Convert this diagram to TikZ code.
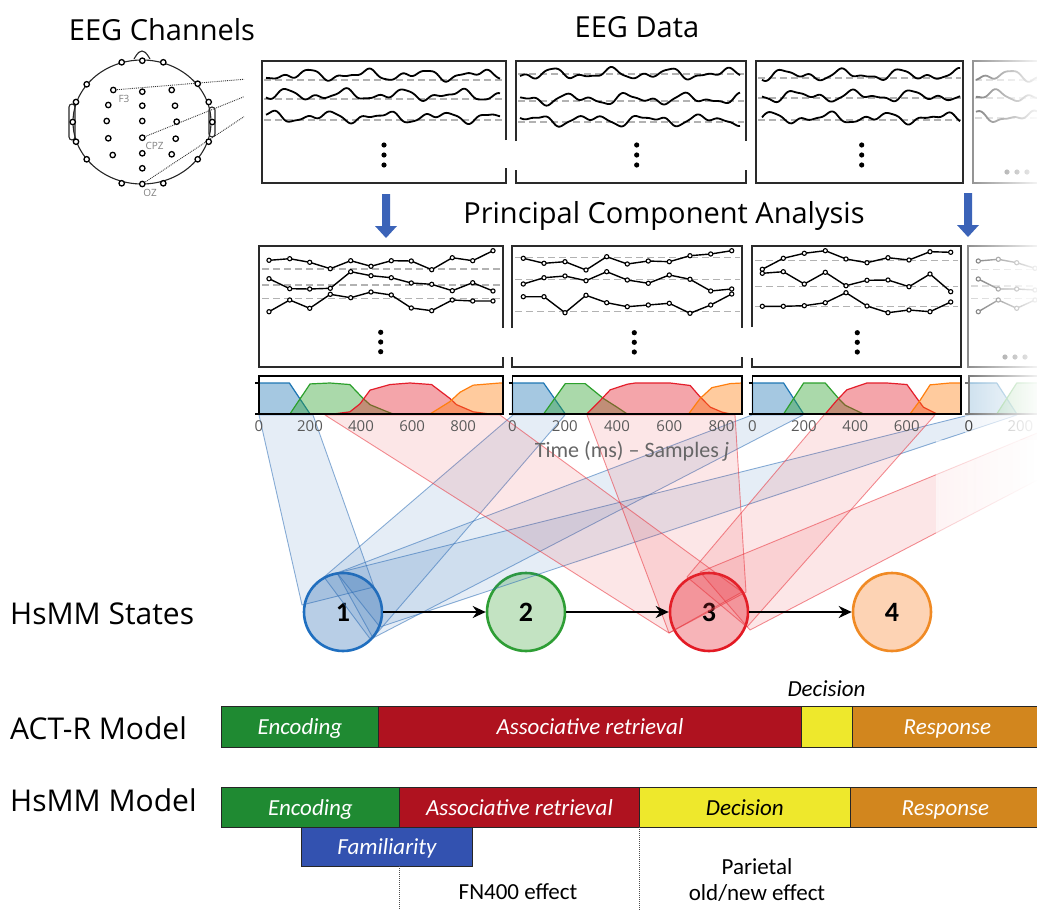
\documentclass[tikz,border=0pt]{standalone}
\usepackage{fontspec}
\setmainfont{Open Sans}
\newfontfamily\condfont[Ligatures=TeX]{Carlito}
\usetikzlibrary{arrows.meta,fadings}

\definecolor{inkgray}{HTML}{2A2A2A}
\definecolor{tickgray}{HTML}{5A5A5A}
\definecolor{dashgray}{HTML}{B2B2B2}
\definecolor{pcablue}{HTML}{3B63B8}
\definecolor{dBlue}{HTML}{1F77B4}
\definecolor{dGreen}{HTML}{2CA02C}
\definecolor{dRed}{HTML}{E41E2B}
\definecolor{dOrange}{HTML}{FF7F0E}
\definecolor{bandBlue}{HTML}{2D6DB5}
\definecolor{bandRed}{HTML}{E8333C}
\definecolor{sBlueF}{HTML}{A8C3E0}
\definecolor{sBlueD}{HTML}{1F6FC0}
\definecolor{sGreenF}{HTML}{B6DDB5}
\definecolor{sGreenD}{HTML}{2E9E35}
\definecolor{sRedF}{HTML}{F5A3A8}
\definecolor{sRedD}{HTML}{E31A24}
\definecolor{sOrangeF}{HTML}{FCC9A4}
\definecolor{sOrangeD}{HTML}{F08A24}
\definecolor{barGreen}{HTML}{1F8A32}
\definecolor{barRed}{HTML}{AF121F}
\definecolor{barYellow}{HTML}{EEE82C}
\definecolor{barOrange}{HTML}{D2861E}
\definecolor{barBlue}{HTML}{3352B0}

\tikzfading[name=panelfade, left color=transparent!55, right color=transparent!5]
\tikzfading[name=bandfade, left color=transparent!45, right color=transparent!0]

% one EEG trace: x from #1 to #2 around baseline #3, phases #4 #5 #6
\newcommand\eegtrace[6]{%
  \draw[eegline] plot[domain=#1:#2, samples=150, smooth]
    (\x, {#3 + 3.6*sin(6.3*(\x-#1)+#4) + 2.6*sin(12.1*(\x-#1)+#5) + 1.0*sin(21.5*(\x-#1)+#6)});}

\tikzset{
  title/.style={font=\fontsize{29}{34}\selectfont},
  rowlabel/.style={font=\fontsize{30}{35}\selectfont, anchor=west, inner sep=0pt},
  electrode/.style={circle, draw=black, line width=1.3pt, fill=white, minimum size=5.4pt, inner sep=0pt},
  elabel/.style={text=black!50, font=\fontsize{10}{12}\selectfont, inner sep=0pt},
  probe/.style={densely dotted, line width=0.9pt, black!80},
  frame/.style={line width=1.7pt, inkgray},
  eegline/.style={line width=1.8pt, black, line join=round},
  baseline/.style={dashgray, line width=1.5pt, dash pattern=on 7pt off 4pt},
  pcaline/.style={line width=1.4pt, mark=*, mark size=2.1pt, mark options={fill=white, line width=1.1pt, solid}},
  dist/.style={draw=#1, fill=#1, fill opacity=0.4, line width=1.2pt, line join=round},
  distframe/.style={line width=1.7pt, black},
  ticklab/.style={text=tickgray, font=\fontsize{15}{18}\selectfont},
  band/.style={draw=#1, draw opacity=0.55, fill=#1, fill opacity=0.12, line width=0.9pt, line join=round},
  state/.style={circle, minimum size=78pt, line width=2.6pt, fill opacity=0.82, text opacity=1,
                font=\condfont\bfseries\fontsize{28}{30}\selectfont},
  statearrow/.style={line width=2pt, -{Stealth[length=13pt,width=12pt]}},
  seg/.style={draw=black!85, line width=0.8pt, minimum height=40pt, inner sep=0pt, anchor=west,
              text height=17pt, text depth=1pt,
              text=white, font=\condfont\itshape\fontsize{23}{26}\selectfont},
  note/.style={font=\condfont\fontsize{23}{27}\selectfont, align=center},
  vmark/.style={densely dotted, line width=1pt, black!70},
}

\begin{document}
\begin{tikzpicture}[x=1pt,y=-1pt]
\useasboundingbox (0,0) rectangle (1037,910);
\clip (0,0) rectangle (1037,910);

% ---------- titles ----------
\node[title] (tChan) at (162,30) {EEG Channels};
\node[title] (tData) at (637,27) {EEG Data};
\node[title] (tPCA)  at (664,216) {Principal Component Analysis};

% ---------- electrode montage ----------
\draw[line width=1.1pt, black!85] (142,122) ellipse [x radius=69, y radius=62];
\draw[line width=1.1pt, black!85] (134,59) .. controls (138,52) and (140,51) .. (142,51)
      .. controls (144,51) and (146,52) .. (150,59);
\draw[line width=1.1pt, black!85, rounded corners=3pt] (69,104) rectangle (75,140);
\draw[line width=1.1pt, black!85, rounded corners=3pt] (209,107) rectangle (215,137);
\coordinate (pr1) at (244,79.3);
\coordinate (pr2) at (244,96.7);
\coordinate (pr3) at (244,116.7);
\coordinate (eF3c) at (113.3,90);
\coordinate (eCPZc) at (142.3,137.7);
\coordinate (eOZc) at (142.3,184);
\draw[probe] (eF3c) -- (pr1);
\draw[probe] (eCPZc) -- (pr2);
\draw[probe] (eOZc) -- (pr3);
\foreach \ex/\ey [count=\k] in {121.7/62.3,142.3/60.7,163.3/62.3,86.7/84.3,197.7/83.7,76/102,208.7/102,
    72.7/122,212.3/122,76/141.7,208.7/141.7,86.7/159.3,197.7/159.3,121.7/183.3,163.3/183.3,
    108.3/105,106.7/121,108.3/138.3,112.7/155,
    142.3/91.7,142.3/105.7,142.3/121,142.3/153.3,142.3/168.3,
    171.7/90,175/105.7,176.7/121.7,175.7/138.7,171.7/154.3}
  \node[electrode] (el\k) at (\ex,\ey) {};
\node[electrode] (eF3) at (eF3c) {};
\node[electrode] (eCPZ) at (eCPZc) {};
\node[electrode] (eOZ) at (eOZc) {};
\node[elabel] (lF3) at (124,99) {F3};
\node[elabel] (lCPZ) at (154.5,146) {CPZ};
\node[elabel] (lOZ) at (150,193) {OZ};

% ---------- EEG data panels ----------
\foreach \by in {80,99,120} \draw[baseline] (264,\by) -- (504,\by);
\foreach \by in {74,101,122} \draw[baseline] (518,\by) -- (744,\by);
\foreach \by in {78,98,120} \draw[baseline] (758,\by) -- (961,\by);
\foreach \by in {80,98,118} \draw[baseline] (975,\by) -- (1037,\by);
\eegtrace{266}{500}{75}{10}{80}{200}
\eegtrace{266}{500}{95}{140}{20}{310}
\eegtrace{266}{500}{117}{250}{170}{40}
\eegtrace{520}{740}{74}{60}{230}{120}
\eegtrace{520}{740}{99}{300}{100}{260}
\eegtrace{520}{740}{120}{190}{320}{15}
\eegtrace{762}{960}{75}{110}{50}{330}
\eegtrace{762}{960}{96}{35}{280}{90}
\eegtrace{762}{960}{118}{220}{140}{180}
\eegtrace{976}{1037}{76}{70}{190}{60}
\eegtrace{976}{1037}{96}{160}{10}{230}
\eegtrace{976}{1037}{117}{280}{250}{130}
\draw[frame] (506,140) -- (506,61) -- (262,61) -- (262,183) -- (506,183) -- (506,168);
\draw[frame] (516,141) -- (516,61) -- (746,61) -- (746,141);
\draw[frame] (516,170) -- (516,183) -- (746,183) -- (746,170);
\draw[frame] (756,61) rectangle (963,183);
\draw[frame] (973,61) rectangle (1045,183);
\foreach \dx/\dy in {384/145,384/155,384/165,636.7/145,636.7/155,636.7/165,861.7/145,861.7/155,861.7/165,
                     1007/172,1017/172,1027/172}
  \fill (\dx,\dy) circle (2.6);

% ---------- principal component panels ----------
\foreach \by in {269,285,298.3} \draw[baseline] (262,\by) -- (501,\by);
\foreach \by in {257.3,279.3,311.7} \draw[baseline] (515,\by) -- (740,\by);
\foreach \by in {260.7,286.7,306.7} \draw[baseline] (755,\by) -- (958,\by);
\foreach \by in {269.3,286,298.3} \draw[baseline] (971,\by) -- (1037,\by);
\draw[pcaline] plot coordinates {(269,260.3)(289.7,258.7)(309.7,262.3)(330.3,268.7)(350.7,260.7)(371,266.3)(391.3,260.7)(411.3,261)(431.7,269.7)(452.3,257.7)(472.7,260.7)(493,250.7)};
\draw[pcaline] plot coordinates {(269,278.7)(289.7,288.7)(309.7,289)(330.3,288.3)(350.7,271.7)(371,275.7)(391.3,277.7)(411.3,283)(431.7,284.3)(452.3,290.7)(472.7,282.7)(493,291)};
\draw[pcaline] plot coordinates {(269,311.7)(289.7,300)(309.7,308.3)(330.3,294.3)(350.7,297.7)(371,292)(391.3,295)(411.3,308)(431.7,310.7)(452.3,300)(472.7,301)(493,301)};
\draw[pcaline] plot coordinates {(523.3,258.3)(544,263.3)(565,261.7)(586,270)(606.7,256.7)(627.3,264)(648.3,261)(669.3,261.7)(690,255.7)(710.7,254)(731.7,250.7)};
\draw[pcaline] plot coordinates {(523.3,284)(544,277.7)(565,276)(586,280.7)(606.7,271.7)(627.3,280)(648.3,283.3)(669.3,275)(690,279.3)(710.7,291)(731.7,289)};
\draw[pcaline] plot coordinates {(523.3,296.7)(544,296.7)(565,312.7)(586,295.3)(606.7,302.7)(627.3,306.7)(648.3,305)(669.3,303.3)(690,313.3)(710.7,305)(731.7,294)};
\draw[pcaline] plot coordinates {(762.3,269.3)(783.3,258.3)(804.3,253.3)(825.3,250.7)(846,259)(867,262.7)(888,257.7)(909,260)(930,251.7)(950.7,252.3)};
\draw[pcaline] plot coordinates {(762.3,273.3)(783.3,271.7)(804.3,284)(825.3,272.3)(846,285.7)(867,280.3)(888,280)(909,286.7)(930,274)(950.7,291.7)};
\draw[pcaline] plot coordinates {(762.3,306.3)(783.3,306.3)(804.3,305.7)(825.3,302.7)(846,292.7)(867,306)(888,312.7)(909,310)(930,311.7)(950.7,302)};
\draw[pcaline] plot coordinates {(978.3,261)(998.3,259.3)(1016.7,262.7)(1035,268.3)(1055,265)};
\draw[pcaline] plot coordinates {(978.3,279)(998.3,289)(1016.7,289)(1035,290)(1055,284)};
\draw[pcaline] plot coordinates {(978.3,311.7)(998.3,300)(1016.7,308.3)(1035,300)(1055,305)};
\draw[frame] (503,328) -- (503,246) -- (259,246) -- (259,367) -- (503,367) -- (503,357);
\draw[frame] (512,328) -- (512,246) -- (742,246) -- (742,328);
\draw[frame] (512,357) -- (512,367) -- (742,367) -- (742,357);
\draw[frame] (752,327) -- (752,246) -- (961,246) -- (961,367) -- (752,367) -- (752,358);
\draw[frame] (968,246) rectangle (1045,367);
\foreach \dx/\dy in {380.7/332.3,380.7/342,380.7/351.7,634.3/332.7,634.3/342.3,634.3/352,857.3/332.7,857.3/342.3,857.3/352,
                     1005/357,1015/357,1025/357}
  \fill (\dx,\dy) circle (2.6);

% ---------- HsMM states ----------
\node[state, fill=sBlueF, draw=sBlueD] (s1) at (343,612) {1};
\node[state, fill=sGreenF, draw=sGreenD] (s2) at (526,612) {2};
\node[state, fill=sRedF, draw=sRedD] (s3) at (709,612) {3};
\node[state, fill=sOrangeF, draw=sOrangeD] (s4) at (892,612) {4};

% ---------- state probability bands ----------
\draw[band=bandBlue] (259,415) -- (313,415) -- (374,587) -- (302,605) -- cycle;
\draw[band=bandBlue] (513,415) -- (565,415) -- (371,640) -- (324,577) -- cycle;
\draw[band=bandBlue] (752,415) -- (803,415) -- (373,638) -- (337,573) -- cycle;
\draw[band=bandBlue] (969,415) -- (1017,415) -- (380,627) -- (337,573) -- cycle;
\draw[band=bandRed] (325,415) -- (500,415) -- (742,592) -- (669,633) -- cycle;
\draw[band=bandRed] (587,415) -- (735,415) -- (746,592) -- (669,633) -- cycle;
\draw[band=bandRed] (824,415) -- (935,415) -- (747,627) -- (687,577) -- cycle;
\draw[band=bandRed] (1081,415) -- (1162,415) -- (750,630) -- (700,572) -- cycle;

\draw[statearrow] (s1) -- (s2);
\draw[statearrow] (s2) -- (s3);
\draw[statearrow] (s3) -- (s4);

% ---------- state probabilities over time ----------
\fill[white] (259,376) rectangle (503,414);
\fill[white] (512.5,376) rectangle (742,414);
\fill[white] (752.5,376) rectangle (961,414);
\fill[white] (969,376) rectangle (1045,414);
\begin{scope}[shift={(259,414)}, x=0.2553pt, y=31pt]
  \draw[dist=dBlue] (0,0) -- (0,1) -- (119,1) -- (200,0) -- cycle;
  \draw[dist=dGreen] (121,0) -- (200,0.97) -- (278,1) -- (356,0.95) -- (408,0.5) -- (435,0.3) -- (500,0.08) -- (526,0) -- cycle;
  \draw[dist=dRed] (291,0) -- (356,0.07) -- (396,0.33) -- (435,0.77) -- (513,0.95) -- (591,1) -- (676,0.95) -- (748,0.5) -- (774,0.3) -- (839,0.07) -- (905,0) -- cycle;
  \draw[dist=dOrange] (670,0) -- (748,0.4) -- (787,0.7) -- (839,0.93) -- (944,1) -- (957,1) -- (957,0) -- cycle;
\end{scope}
\begin{scope}[shift={(512.5,414)}, x=0.2613pt, y=31pt]
  \draw[dist=dBlue] (0,0) -- (0,1) -- (119,1) -- (202,0) -- cycle;
  \draw[dist=dGreen] (119,0) -- (202,0.98) -- (278,0.98) -- (348,0.5) -- (400,0.22) -- (439,0) -- cycle;
  \draw[dist=dRed] (284,0) -- (336,0.44) -- (374,0.78) -- (439,0.96) -- (470,1) -- (603,1) -- (680,0.92) -- (718,0.55) -- (757,0.22) -- (802,0.06) -- (835,0) -- cycle;
  \draw[dist=dOrange] (674,0) -- (718,0.5) -- (763,0.85) -- (833,0.98) -- (879,1) -- (879,0) -- cycle;
\end{scope}
\begin{scope}[shift={(752.5,414)}, x=0.257pt, y=31pt]
  \draw[dist=dBlue] (0,0) -- (0,1) -- (121,1) -- (199,0) -- cycle;
  \draw[dist=dGreen] (121,0) -- (199,1) -- (283,1) -- (335,0.5) -- (361,0.28) -- (432,0) -- cycle;
  \draw[dist=dRed] (283,0) -- (328,0.44) -- (367,0.78) -- (445,1) -- (523,1) -- (601,0.95) -- (640,0.5) -- (665,0.22) -- (718,0) -- cycle;
  \draw[dist=dOrange] (613,0) -- (652,0.44) -- (691,0.94) -- (769,1) -- (812,1) -- (812,0) -- cycle;
\end{scope}
\begin{scope}[shift={(969,414)}, x=0.257pt, y=31pt]
  \draw[dist=dBlue] (0,0) -- (0,1) -- (108,1) -- (186,0) -- cycle;
  \draw[dist=dGreen] (108,0) -- (186,1) -- (270,1) -- (330,0.4) -- (380,0) -- cycle;
\end{scope}
\draw[distframe] (259,376) rectangle (503,414);
\draw[distframe] (512.5,376) rectangle (742,414);
\draw[distframe] (752.5,376) rectangle (961,414);
\draw[distframe] (969,376) rectangle (1045,414);
\foreach \tx in {259,512.5,752.5,969}
  \draw[line width=1.2pt] (\tx-4,383) -- (\tx,383) (\tx-4,414) -- (\tx,414);

% time axis labels
\foreach \tx/\tl in {259/0,310/200,361/400,412.2/600,463.2/800,
                     512.5/0,564.8/200,617/400,669.3/600,721.5/800,
                     803.9/200,855.3/400,906.7/600,1020.4/200}
  \node[ticklab] at (\tx,426) {\tl};
\node[ticklab] (t30) at (752.5,426) {0};
\node[text=black!60, font=\condfont\fontsize{22}{25}\selectfont] (tAxis) at (632,451) {Time (ms) – Samples \textit{j}};

% fade towards the right edge
\fill[white, path fading=panelfade] (965,56) rectangle (1037,440);
\fill[white, path fading=bandfade] (936,440) rectangle (1037,575);
\node[ticklab, text=black!75] (t40) at (969,426) {0};

% ---------- PCA arrows ----------
\fill[pcablue] (382,194) -- (390,194) -- (390,226) -- (397,226) -- (386,238) -- (375,226) -- (382,226) -- cycle;
\fill[pcablue] (964,193) -- (972,193) -- (972,225) -- (979,225) -- (968,237) -- (957,225) -- (964,225) -- cycle;

% ---------- row labels ----------
\node[rowlabel] (rStates) at (10,614) {HsMM States};
\node[rowlabel] (rACTR) at (10,728) {ACT-R Model};
\node[rowlabel] (rHsMM) at (10,800) {HsMM Model};

% ---------- ACT-R model stages ----------
\node[seg, fill=barGreen, minimum width=157pt, minimum height=41pt] (aEnc) at (221,726.5) {Encoding};
\node[seg, fill=barRed, minimum width=423pt, minimum height=41pt] (aRet) at (378,726.5) {Associative retrieval};
\node[seg, fill=barYellow, minimum width=51pt, minimum height=41pt] (aDec) at (801,726.5) {};
\node[seg, fill=barOrange, minimum width=190pt, minimum height=41pt] (aRes) at (852,726.5) {Response};
\node[font=\condfont\itshape\fontsize{23}{26}\selectfont] (aDecLab) at (826.5,689) {Decision};

% ---------- HsMM model stages ----------
\node[seg, fill=barGreen, minimum width=178pt] (hEnc) at (221,807) {Encoding};
\node[seg, fill=barRed, minimum width=240pt] (hRet) at (399,807) {Associative retrieval};
\node[seg, fill=barYellow, minimum width=211pt, text=black] (hDec) at (639,807) {Decision};
\node[seg, fill=barOrange, minimum width=190pt] (hRes) at (850,807) {Response};
\node[seg, fill=barBlue, minimum width=171pt, minimum height=39pt] (hFam) at (301,846.5) {Familiarity};

\coordinate (m1a) at (399,866);
\coordinate (m1b) at (399,910);
\coordinate (m2a) at (639,827);
\coordinate (m2b) at (639,910);
\draw[vmark] (m1a) -- (m1b);
\draw[vmark] (m2a) -- (m2b);
\node[note] (nFN) at (518,892) {FN400 effect};
\node[note] (nPar) at (757,867) {Parietal};
\node[note] (nOld) at (757,893) {old/new effect};
\end{tikzpicture}
\end{document}
